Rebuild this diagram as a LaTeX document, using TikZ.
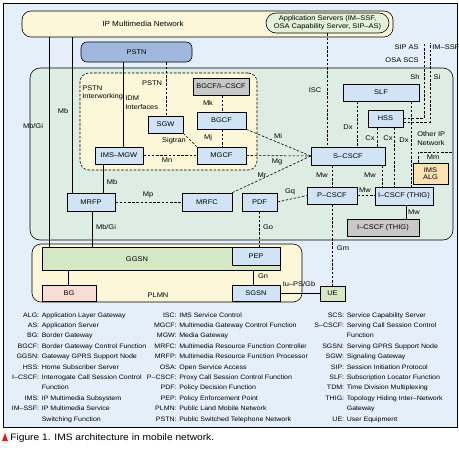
\documentclass[tikz,border=0pt]{standalone}
\usepackage{fontspec}
\setmainfont{Liberation Sans}[FakeStretch=1.1]
\usepackage{xcolor}
\usepackage{tikz}

\definecolor{framebg}{RGB}{229,239,249}
\definecolor{coregreen}{RGB}{222,237,227}
\definecolor{paleyellow}{RGB}{253,247,218}
\definecolor{boxblue}{RGB}{208,228,245}
\definecolor{pstnblue}{RGB}{160,184,221}
\definecolor{boxgray}{RGB}{200,200,200}
\definecolor{gwgreen}{RGB}{212,232,198}
\definecolor{bgpink}{RGB}{247,221,212}
\definecolor{algorange}{RGB}{252,226,178}
\definecolor{asgreen}{RGB}{226,241,216}
\definecolor{capred}{RGB}{220,30,30}

\begin{document}
\begin{tikzpicture}[x=1pt, y=-1pt, line width=0.6pt,
  region/.style={draw, rounded corners=9pt, inner sep=0pt},
  box/.style={draw, fill=boxblue, inner sep=0pt, font=\fontsize{6.8}{7.6}\selectfont},
  lbl/.style={inner sep=0pt, font=\fontsize{6.8}{8.6}\selectfont},
  gloss/.style={inner sep=0pt, font=\fontsize{6.4}{7}\selectfont},
  conn/.style={dash pattern=on 2.6pt off 1.6pt}]

  \useasboundingbox (0,0) rectangle (459,450);

  % Frame
  \node[draw, fill=framebg, line width=0.8pt, minimum width=454, minimum height=424, inner sep=0pt] (frame) at (230,215) {};

  % Networks
  \node[region, fill=paleyellow, minimum width=371, minimum height=26] (ipmm) at (207.5,24) {};
  \node[lbl, font=\fontsize{7.4}{8}\selectfont] (ipmmlbl) at (143,23.5) {IP Multimedia Network};
  \node[region, fill=asgreen, rounded corners=10pt, minimum width=123, minimum height=20, align=center,
        font=\fontsize{6.8}{7.6}\selectfont] (appsrv) at (327.5,23) {Application Servers (IM–SSF,\\OSA Capability Server, SIP–AS)};
  \node[region, fill=pstnblue, rounded corners=6pt, minimum width=111, minimum height=20,
        font=\fontsize{6.8}{7.6}\selectfont] (pstn) at (136.5,52) {PSTN};
  \node[region, fill=coregreen, rounded corners=10pt, minimum width=423, minimum height=172] (core) at (241.5,154) {};
  \node[region, conn, fill=paleyellow, minimum width=177, minimum height=97] (pstnif) at (168.5,121.5) {};
  \node[region, fill=paleyellow, minimum width=270, minimum height=58] (plmn) at (167,273) {};

  % PSTN interworking
  \node[box, fill=boxgray, minimum width=56, minimum height=17] (bgcfi) at (221,86.5) {BGCF/I–CSCF};
  \node[box, minimum width=35, minimum height=17] (sgw) at (165.5,124.5) {SGW};
  \node[box, minimum width=49, minimum height=17] (bgcf) at (221.5,120.5) {BGCF};
  \node[box, minimum width=49, minimum height=17] (mgcf) at (221.5,155.5) {MGCF};
  \node[box, minimum width=48, minimum height=17] (imsmgw) at (119,155.5) {IMS–MGW};

  % IMS core
  \node[box, minimum width=48, minimum height=18] (mrfp) at (91,202) {MRFP};
  \node[box, minimum width=50, minimum height=18] (mrfc) at (207,202) {MRFC};
  \node[box, minimum width=35, minimum height=18] (pdf) at (259.5,202) {PDF};
  \node[box, minimum width=74, minimum height=18] (scscf) at (348,156) {S–CSCF};
  \node[box, minimum width=50, minimum height=17] (pcscf) at (332,195.5) {P–CSCF};
  \node[box, minimum width=58, minimum height=18] (icscf) at (404,196) {I–CSCF (THIG)};
  \node[box, fill=boxgray, minimum width=72, minimum height=17] (icscfg) at (383,227.5) {I–CSCF (THIG)};
  \node[box, fill=algorange, minimum width=35, minimum height=21, align=center] (alg) at (430.5,173.5) {IMS\\ALG};
  \node[box, minimum width=76, minimum height=17] (slf) at (381,92.5) {SLF};
  \node[box, minimum width=35, minimum height=17] (hss) at (385.5,118.5) {HSS};

  % PLMN
  \node[box, fill=gwgreen, minimum width=238, minimum height=23] (ggsn) at (161,258.5) {};
  \node[lbl] (ggsnlbl) at (137,259) {GGSN};
  \node[box, minimum width=48, minimum height=18] (pep) at (256,256) {PEP};
  \node[box, fill=bgpink, minimum width=54, minimum height=16] (bg) at (69,293) {BG};
  \node[box, minimum width=48, minimum height=16] (sgsn) at (256,293) {SGSN};
  \node[box, fill=gwgreen, minimum width=25, minimum height=15] (ue) at (332.5,293.5) {UE};
  \node[lbl] (plmnlbl) at (158,295) {PLMN};

  % Solid links
  \draw (ipmm.south -| 49,0) -- (ggsn.north -| 49,0);
  \draw (ipmm.south -| 72,0) -- (mrfp.north -| 72,0);
  \draw (pstn.south -| 123,0) -- (imsmgw.north -| 123,0);
  \draw (imsmgw.south -| 103,0) -- (mrfp.north -| 103,0);
  \draw (mrfp.south -| 92,0) -- (ggsn.north -| 92,0);
  \draw (ggsn.south -| 68,0) -- (bg.north -| 68,0);
  \draw (ggsn.south -| 253,0) -- (sgsn.north -| 253,0);
  \draw (sgsn.east) -- (sgsn.east -| ue.west);
  \draw (icscf.south -| 406,0) -- (icscfg.north -| 406,0);

  % Dashed links
  \draw[conn] (pstn.south -| 166,0) -- (sgw.north -| 166,0);
  \draw[conn] (bgcfi.south -| 222,0) -- (bgcf.north -| 222,0);
  \draw[conn] (bgcf.south -| 222,0) -- (mgcf.north -| 222,0);
  \draw[conn] (sgw.south east) -- (mgcf.north west);
  \draw[conn] (imsmgw.east) -- (imsmgw.east -| mgcf.west);
  \draw[conn] (mrfp.east) -- (mrfc.west);
  \draw[conn] (bgcf.south east) -- (scscf.west);
  \draw[conn] (mgcf.east) -- (scscf.west);
  \draw[conn] (mrfc.north east) -- (scscf.west);
  \draw[conn] (pdf.east) -- (pcscf.west);
  \draw[conn] (pdf.south) -- (pdf.south |- pep.north);
  \draw[conn] (appsrv.south) -- (appsrv.south |- scscf.north);
  \draw[conn] (scscf.south -| pcscf.north) -- (pcscf.north);
  \draw[conn] (pcscf.south) -- (pcscf.south |- ue.north);
  \draw[conn] (scscf.south -| 382,0) -- (icscf.north -| 382,0);
  \draw[conn] (pcscf.east) -- (pcscf.east -| icscf.west);
  \draw[conn] (slf.south -| 357,0) -- (scscf.north -| 357,0);
  \draw[conn] (slf.south -| 411,0) -- (icscf.north -| 411,0);
  \draw[conn] (hss.south -| 377,0) -- (scscf.north -| 377,0);
  \draw[conn] (hss.south -| 394,0) -- (icscf.north -| 394,0);

  % Links leaving the core
  \coordinate (shtop) at (424,43);
  \coordinate (sitop) at (430,43);
  \coordinate (mmcorner) at (418,152);
  \draw[conn] ([yshift=0.5pt]hss.east) -| (shtop);
  \draw[conn] ([yshift=-3.5pt]hss.east) -| (sitop);
  \draw[conn] (alg.north -| mmcorner) -- (mmcorner) -- (mmcorner -| core.east);

  % Interface labels
  \node[lbl] (lmbgi) at (33,126) {Mb/Gi};
  \node[lbl] (lmb) at (63,111) {Mb};
  \node[lbl] (lpstn) at (152,83) {PSTN};
  \node[lbl, anchor=west, align=left] (lpstniw) at (82,93) {PSTN\\Interworking};
  \node[lbl, anchor=west, align=left] (lidm) at (125,102.5) {IDM\\Interfaces};
  \node[lbl] (lmk) at (208,103) {Mk};
  \node[lbl] (lmj) at (208,138) {Mj};
  \node[lbl] (lsigtran) at (174,141) {Sigtran};
  \node[lbl] (lmn) at (167,160) {Mn};
  \node[lbl] (lmb2) at (112,182) {Mb};
  \node[lbl] (lmp) at (148,195) {Mp};
  \node[lbl] (lmbgi2) at (106,227) {Mb/Gi};
  \node[lbl] (lmi) at (278,136) {Mi};
  \node[lbl] (lmg) at (277,162) {Mg};
  \node[lbl] (lmr) at (262,175) {Mr};
  \node[lbl] (lgq) at (290,192) {Gq};
  \node[lbl] (lgo) at (268,227) {Go};
  \node[lbl] (lisc) at (315,90) {ISC};
  \node[lbl] (lmw1) at (322,175) {Mw};
  \node[lbl] (lmw2) at (370,175) {Mw};
  \node[lbl] (lmw3) at (365,190) {Mw};
  \node[lbl] (lmw4) at (414,212) {Mw};
  \node[lbl] (lgm) at (343,248) {Gm};
  \node[lbl] (ldx1) at (348,127) {Dx};
  \node[lbl] (lcx1) at (370,138) {Cx};
  \node[lbl] (lcx2) at (388,138) {Cx};
  \node[lbl] (ldx2) at (404,140) {Dx};
  \node[lbl] (lsh) at (415,77) {Sh};
  \node[lbl] (lsi) at (437,77) {Si};
  \node[lbl, anchor=east] (lsipas) at (419,47) {SIP AS};
  \node[lbl, anchor=east] (losascs) at (419,60) {OSA SCS};
  \node[lbl, anchor=west] (limssf) at (432,47) {IM–SSF};
  \node[lbl, anchor=west, align=left] (lother) at (417,138.5) {Other IP\\Network};
  \node[lbl] (lmm) at (433,157) {Mm};
  \node[lbl] (lgn) at (263,276) {Gn};
  \node[lbl] (liups) at (299,284) {Iu–PS/Gb};

  % Glossary
  \foreach \ab/\txt [count=\r] in {ALG:/Application Layer Gateway, AS:/Application Server,
      BG:/Border Gateway, BGCF:/Border Gateway Control Function, GGSN:/Gateway GPRS Support Node,
      HSS:/Home Subscriber Server, I–CSCF:/Interrogate Call Session Control, {}/Function,
      IMS:/IP Multimedia Subsystem, IM–SSF:/IP Multimedia Service, {}/Switching Function} {
    \node[gloss, anchor=base east] (ga-\r) at (39.5, 306.6+10.4*\r) {\ab};
    \node[gloss, anchor=base west] (gt-\r) at (41.5, 306.6+10.4*\r) {\txt};
  }
  \foreach \ab/\txt [count=\r] in {ISC:/IMS Service Control, MGCF:/Multimedia Gateway Control Function,
      MGW:/Media Gateway, MRFC:/Multimedia Resource Function Controller,
      MRFP:/Multimedia Resource Function Processor, OSA:/Open Service Access,
      P–CSCF:/Proxy Call Session Control Function, PDF:/Policy Decision Function,
      PEP:/Policy Enforcement Point, PLMN:/Public Land Mobile Network,
      PSTN:/Public Switched Telephone Network} {
    \node[gloss, anchor=base east] (gb-\r) at (177, 306.6+10.4*\r) {\ab};
    \node[gloss, anchor=base west] (gu-\r) at (179, 306.6+10.4*\r) {\txt};
  }
  \foreach \ab/\txt [count=\r] in {SCS:/Service Capability Server, S–CSCF:/Serving Call Session Control,
      {}/Function, SGSN:/Serving GPRS Support Node, SGW:/Signaling Gateway,
      SIP:/Session Initiation Protocol, SLF:/Subscription Locator Function,
      TDM:/Time Division Multiplexing, THIG:/Topology Hiding Inter–Network, {}/Gateway,
      UE:/User Equipment} {
    \node[gloss, anchor=base east] (gc-\r) at (344.5, 306.6+10.4*\r) {\ab};
    \node[gloss, anchor=base west] (gv-\r) at (346.5, 306.6+10.4*\r) {\txt};
  }

  % Caption
  \fill[capred] (2,441) -- (8,441) -- (5,433) -- cycle;
  \node[anchor=base west, inner sep=0pt, font=\fontsize{9.3}{11}\selectfont] (caption) at (10,440.5)
    {Figure 1. IMS architecture in mobile network.};
\end{tikzpicture}
\end{document}
